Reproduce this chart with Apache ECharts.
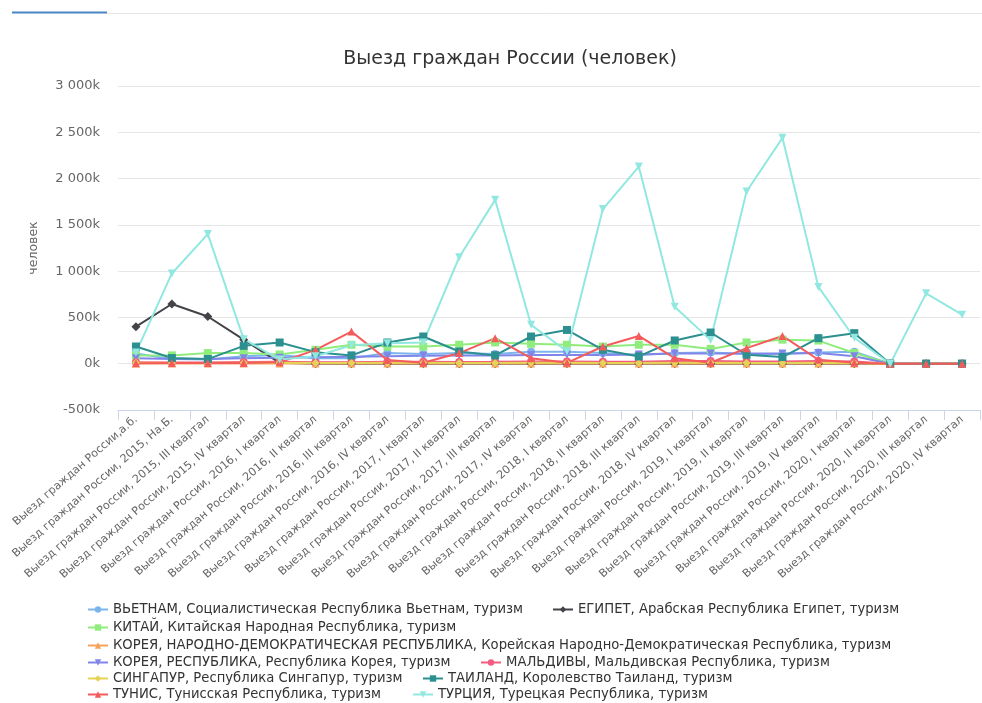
<!DOCTYPE html>
<html>
<head>
<meta charset="utf-8">
<script src="https://cdn.jsdelivr.net/npm/echarts@6/dist/echarts.min.js"></script>
<style>
  html, body { margin: 0; padding: 0; background: #fff; }
  #chart { width: 982px; height: 703px; }
</style>
</head>
<body>
<div id="chart"></div>
<script>
const categories = [
    "Выезд граждан России,а.б.",
    "Выезд граждан России, 2015, На.Б.",
    "Выезд граждан России, 2015, III квартал",
    "Выезд граждан России, 2015, IV квартал",
    "Выезд граждан России, 2016, I квартал",
    "Выезд граждан России, 2016, II квартал",
    "Выезд граждан России, 2016, III квартал",
    "Выезд граждан России, 2016, IV квартал",
    "Выезд граждан России, 2017, I квартал",
    "Выезд граждан России, 2017, II квартал",
    "Выезд граждан России, 2017, III квартал",
    "Выезд граждан России, 2017, IV квартал",
    "Выезд граждан России, 2018, I квартал",
    "Выезд граждан России, 2018, II квартал",
    "Выезд граждан России, 2018, III квартал",
    "Выезд граждан России, 2018, IV квартал",
    "Выезд граждан России, 2019, I квартал",
    "Выезд граждан России, 2019, II квартал",
    "Выезд граждан России, 2019, III квартал",
    "Выезд граждан России, 2019, IV квартал",
    "Выезд граждан России, 2020, I квартал",
    "Выезд граждан России, 2020, II квартал",
    "Выезд граждан России, 2020, III квартал",
    "Выезд граждан России, 2020, IV квартал"
];

const seriesNames = [
    "ВЬЕТНАМ, Социалистическая Республика Вьетнам, туризм",
    "ЕГИПЕТ, Арабская Республика Египет, туризм",
    "КИТАЙ, Китайская Народная Республика, туризм",
    "КОРЕЯ, НАРОДНО-ДЕМОКРАТИЧЕСКАЯ РЕСПУБЛИКА, Корейская Народно-Демократическая Республика, туризм",
    "КОРЕЯ, РЕСПУБЛИКА, Республика Корея, туризм",
    "МАЛЬДИВЫ, Мальдивская Республика, туризм",
    "СИНГАПУР, Республика Сингапур, туризм",
    "ТАИЛАНД, Королевство Таиланд, туризм",
    "ТУНИС, Тунисская Республика, туризм",
    "ТУРЦИЯ, Турецкая Республика, туризм"
];

const vietnam   = [110000, 50000, 45000, 80000, 95000, 60000, 60000, 115000, 105000, 115000, 105000, 130000, 130000, 115000, 95000, 115000, 120000, 105000, 105000, 120000, 130000, 0, 0, 0];
const egypt     = [400000, 645000, 510000, 260000, 10000, 0, 0, 0, 0, 0, 0, 0, 0, 0, 0, 0, 0, 0, 0, 0, 0, 0, 0, 0];
const china     = [90000, 90000, 115000, 115000, 100000, 150000, 205000, 185000, 185000, 205000, 230000, 215000, 205000, 185000, 205000, 205000, 160000, 230000, 260000, 250000, 115000, 0, 0, 0];
const dprk      = [1000, 1000, 1000, 1000, 1000, 1000, 1000, 1000, 1000, 1000, 1000, 1000, 1000, 1000, 1000, 1000, 1000, 1000, 1000, 1000, 1000, 0, 0, 0];
const korea     = [60000, 50000, 50000, 60000, 65000, 70000, 75000, 80000, 85000, 90000, 90000, 95000, 95000, 95000, 100000, 110000, 110000, 110000, 110000, 115000, 80000, 0, 0, 0];
const maldives  = [15000, 12000, 12000, 18000, 20000, 15000, 15000, 20000, 20000, 18000, 20000, 25000, 25000, 20000, 22000, 28000, 30000, 25000, 25000, 30000, 25000, 0, 0, 0];
const singapore = [10000, 8000, 8000, 10000, 10000, 9000, 9000, 10000, 10000, 9000, 9000, 10000, 10000, 9000, 9000, 10000, 10000, 9000, 9000, 10000, 8000, 0, 0, 0];
const thailand  = [186000, 61000, 50000, 193000, 229000, 125000, 90000, 229000, 294000, 132000, 90000, 294000, 365000, 150000, 79000, 251000, 337000, 97000, 72000, 276000, 330000, 0, 0, 0];
const tunisia   = [5000, 8000, 8000, 8000, 15000, 150000, 347000, 40000, 10000, 115000, 276000, 60000, 10000, 186000, 300000, 60000, 10000, 168000, 300000, 43000, 10000, 0, 0, 0];
const turkey    = [120000, 975000, 1400000, 265000, 45000, 80000, 200000, 220000, 230000, 1150000, 1770000, 420000, 135000, 1670000, 2130000, 615000, 255000, 1860000, 2440000, 830000, 280000, 0, 760000, 530000];

const yTicks = [-500000, 0, 500000, 1000000, 1500000, 2000000, 2500000, 3000000];

const allData = [vietnam, egypt, china, dprk, korea, maldives, singapore, thailand, tunisia, turkey];
const colors = ["#7cb5ec", "#434348", "#90ed7d", "#f7a35c", "#8085e9", "#f15c80", "#e4d354", "#2b908f", "#f45b5b", "#91e8e1"];
const triDown = "path://M0,0 L10,0 L5,10 Z";
const symbols = ["circle", "diamond", "rect", "triangle", triDown, "circle", "diamond", "rect", "triangle", triDown];

// legend rows: [series index, left, top]
const legendPos = [
    [0, 87, 603], [1, 552, 603],
    [2, 87, 621],
    [3, 87, 639],
    [4, 87, 656], [5, 480, 656],
    [6, 87, 672], [7, 422, 672],
    [8, 87, 688], [9, 412, 688]
];

const font = "DejaVu Sans";

const fmtK = v => {
    const k = Math.round(v / 1000);
    const s = String(Math.abs(k)).replace(/\B(?=(\d{3})+(?!\d))/g, " ");
    return (k < 0 ? "-" : "") + s + "k";
};

const chart = echarts.init(document.getElementById("chart"));

const option = {
    animation: false,
    color: colors,
    title: {
        text: "Выезд граждан России (человек)",
        left: 505,
        top: 45,
        textAlign: "center",
        textStyle: { fontFamily: font, fontSize: 19, fontWeight: "normal", color: "#333333" }
    },
    graphic: [
        { type: "line", shape: { x1: 107, y1: 13.5, x2: 982, y2: 13.5 }, style: { stroke: "#e6e6e6", lineWidth: 1 } },
        { type: "line", shape: { x1: 12, y1: 12.5, x2: 107, y2: 12.5 }, style: { stroke: "#4a86c5", lineWidth: 2 } }
    ],
    legend: legendPos.map(p => ({
        data: [seriesNames[p[0]]],
        left: p[1],
        top: p[2],
        padding: 0,
        itemWidth: 20,
        itemHeight: 8,
        itemGap: 0,
        textStyle: { fontFamily: font, fontSize: 13.2, color: "#333333" }
    })),
    grid: { left: 118, right: 2, top: 86, bottom: 293, containLabel: false },
    xAxis: {
        type: "category",
        data: categories,
        boundaryGap: true,
        axisLine: { onZero: false, lineStyle: { color: "#ccd6eb" } },
        axisTick: { show: true, length: 10, alignWithLabel: false, lineStyle: { color: "#ccd6eb" } },
        axisLabel: {
            interval: 0,
            rotate: 41,
            margin: 8,
            fontFamily: font,
            fontSize: 11.2,
            color: "#666666"
        }
    },
    yAxis: {
        type: "value",
        min: yTicks[0],
        max: yTicks[yTicks.length - 1],
        interval: 500000,
        name: "человек",
        nameLocation: "middle",
        nameGap: 78,
        nameTextStyle: { fontFamily: font, fontSize: 12.5, color: "#666666" },
        axisLine: { show: false },
        axisTick: { show: false },
        splitLine: { lineStyle: { color: "#e6e6e6" } },
        axisLabel: {
            margin: 18,
            fontFamily: font,
            fontSize: 13,
            color: "#666666",
            formatter: fmtK
        }
    },
    series: allData.map((d, i) => ({
        name: seriesNames[i],
        type: "line",
        data: d,
        symbol: symbols[i],
        symbolSize: i === 1 ? 9 : 8,
        lineStyle: { width: 2, color: colors[i] },
        itemStyle: { color: colors[i] }
    }))
};

chart.setOption(option);
</script>
</body>
</html>
